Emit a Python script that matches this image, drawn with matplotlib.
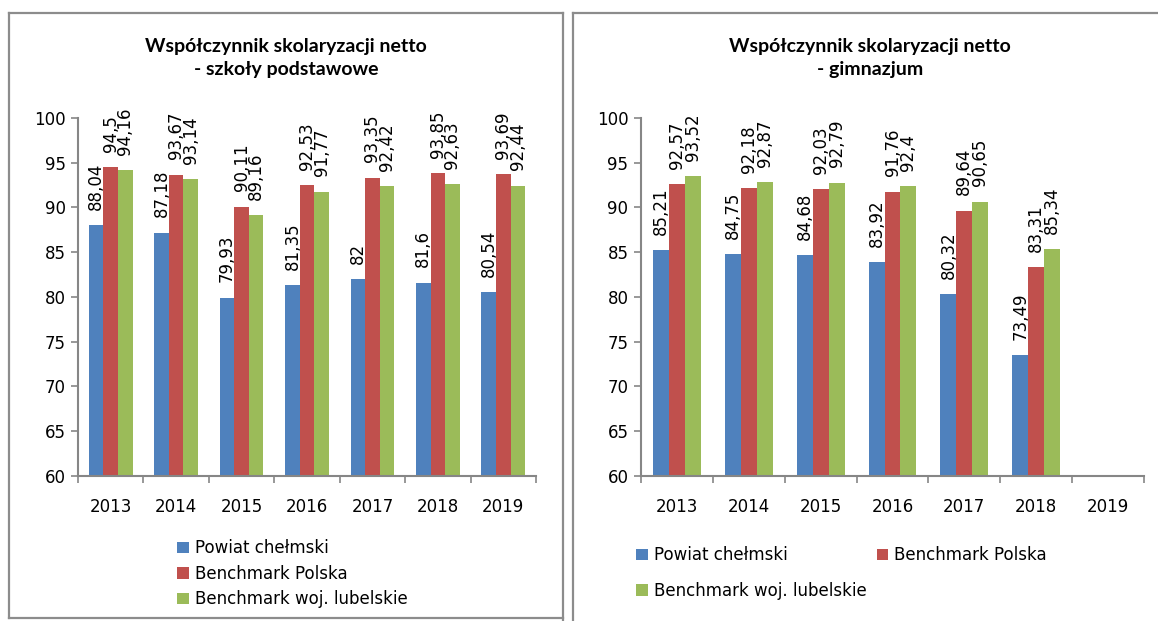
import matplotlib
matplotlib.use("Agg")
import matplotlib.pyplot as plt
from matplotlib.patches import Patch
from matplotlib.lines import Line2D
import numpy as np

plt.rcParams['font.family'] = ['DejaVu Sans']

years = ["2013", "2014", "2015", "2016", "2017", "2018", "2019"]
series_names = ["Powiat chełmski", "Benchmark Polska", "Benchmark woj. lubelskie"]
colors = ["#4F81BD", "#C0504D", "#9BBB59"]

# Szkoły podstawowe
sp_powiat = [88.04, 87.18, 79.93, 81.35, 82, 81.6, 80.54]
sp_polska = [94.5, 93.67, 90.11, 92.53, 93.35, 93.85, 93.69]
sp_lubelskie = [94.16, 93.14, 89.16, 91.77, 92.42, 92.63, 92.44]

# Gimnazjum (2019: brak danych)
gim_powiat = [85.21, 84.75, 84.68, 83.92, 80.32, 73.49, None]
gim_polska = [92.57, 92.18, 92.03, 91.76, 89.64, 83.31, None]
gim_lubelskie = [93.52, 92.87, 92.79, 92.4, 90.65, 85.34, None]

title_sp = "Współczynnik skolaryzacji netto\n- szkoły podstawowe"
title_gim = "Współczynnik skolaryzacji netto\n- gimnazjum"

W, H = 1158, 621
fig = plt.figure(figsize=(W / 100, H / 100), dpi=100)

def px_axes(x0, x1, ytop, ybot):
    return fig.add_axes([x0 / W, 1 - ybot / H, (x1 - x0) / W, (ybot - ytop) / H])

def fmt(v):
    return f"{v:g}".replace(".", ",")

axis_color = "#868686"
FS = 12

def draw(ax, data):
    n = len(years)
    x = np.arange(n)
    bw = 1 / 4.5
    for i, (vals, col) in enumerate(zip(data, colors)):
        xs = [x[j] + (i - 1) * bw for j in range(n) if vals[j] is not None]
        vs = [vals[j] for j in range(n) if vals[j] is not None]
        bars = ax.bar(xs, vs, width=bw, color=col, zorder=2)
        for b, v in zip(bars, vs):
            ax.annotate(fmt(v), (b.get_x() + b.get_width() / 2, v),
                        xytext=(0, 11), textcoords="offset points",
                        rotation=90, ha="center", va="bottom", fontsize=FS,
                        color="#000000")
    ax.set_ylim(60, 100)
    ax.set_xlim(-0.5, n - 0.5)
    ax.set_yticks(range(60, 101, 5))
    ax.set_xticks(x)
    ax.set_xticklabels(years)
    ax.set_xticks(np.arange(-0.5, n, 1), minor=True)
    ax.tick_params(axis="x", which="major", length=0, pad=16, labelsize=FS)
    ax.tick_params(axis="x", which="minor", length=5, color=axis_color, width=1.2, direction="out")
    ax.tick_params(axis="y", length=5, color=axis_color, width=1.2, pad=4, labelsize=FS)
    for s in ["top", "right"]:
        ax.spines[s].set_visible(False)
    for s in ["left", "bottom"]:
        ax.spines[s].set_color(axis_color)
        ax.spines[s].set_linewidth(1.5)

ax1 = px_axes(78, 536, 118, 476)
draw(ax1, [sp_powiat, sp_polska, sp_lubelskie])
ax2 = px_axes(641, 1144, 118, 476)
draw(ax2, [gim_powiat, gim_polska, gim_lubelskie])

# titles
for xc, t in [(286, title_sp), (870, title_gim)]:
    fig.text(xc / W, 1 - 58 / H, t, ha="center", va="center", fontsize=14,
             fontweight="bold", linespacing=1.45, family=["Lato", "DejaVu Sans"])

handles = [Patch(facecolor=c, edgecolor="none") for c in colors]

leg1 = fig.legend(handles, series_names, loc="upper left",
                  bbox_to_anchor=(169 / W, 1 - 531 / H), frameon=False,
                  fontsize=FS, handlelength=0.7, handleheight=0.7,
                  handletextpad=0.35, labelspacing=0.45, borderpad=0)

order = [0, 2, 1]
leg2 = fig.legend([handles[i] for i in order], [series_names[i] for i in order],
                  loc="upper left", bbox_to_anchor=(628 / W, 1 - 538 / H),
                  ncol=2, frameon=False, fontsize=FS, handlelength=0.7,
                  handleheight=0.7, handletextpad=0.35, labelspacing=1.05,
                  columnspacing=0.6, borderpad=0)

# panel borders
bc = "#8C8C8C"
def line(xs, ys):
    fig.add_artist(Line2D([v / W for v in xs], [1 - v / H for v in ys],
                          color=bc, linewidth=1.6))
line([9, 563], [13, 13])
line([9, 9], [13, 618])
line([563, 563], [13, 621])
line([9, 563], [618, 618])
line([573, 1158], [13, 13])
line([573, 573], [13, 621])

fig.savefig("out.png", dpi=100)
